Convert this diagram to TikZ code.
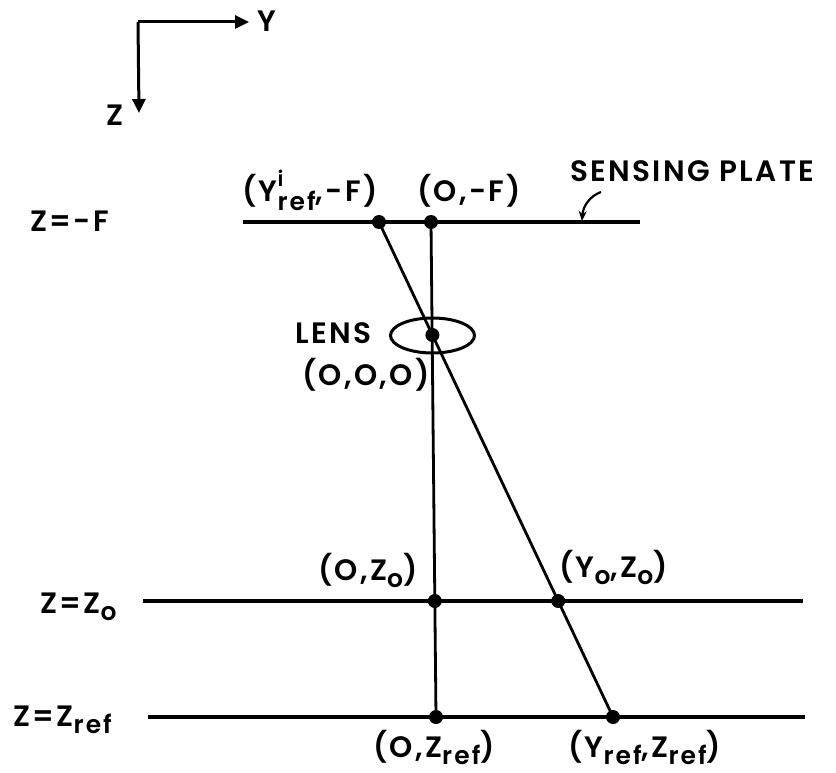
\documentclass[tikz,border=0pt]{standalone}
\usepackage{fontspec}
\setmainfont{Poppins}[BoldFont={Poppins SemiBold},BoldFeatures={LetterSpace=8}]
\usetikzlibrary{arrows.meta}
\newcommand{\lowsub}[1]{\raisebox{-7pt}{\fontsize{25}{25}\selectfont #1}}
\newcommand{\yiref}{Y\rlap{\raisebox{16pt}{\fontsize{21}{21}\selectfont i}}\raisebox{-9pt}{\fontsize{25}{25}\selectfont ref}}
\tikzset{
  lbl/.style={inner sep=0pt, anchor=base west, font=\fontsize{29.5}{29.5}\selectfont\bfseries},
  dot/.style={circle, fill=black, inner sep=0pt, minimum size=14pt},
  plane/.style={line width=4pt},
  ray/.style={line width=2.8pt},
  axis/.style={line width=3pt, -{Triangle[length=14pt,width=13pt]}},
}
\begin{document}
\begin{tikzpicture}[x=1pt,y=-1pt]
\useasboundingbox (0,0) rectangle (836,773);
% axes
\coordinate (ax0) at (138,22);
\coordinate (axY) at (249,22);
\coordinate (axZ) at (139,113);
\draw[axis] (ax0) -- (axY);
\draw[axis] (ax0) -- (axZ);
\node[lbl] (labY) at (257,32) {Y};
\node[lbl] (labZ) at (106,126) {Z};
% plane endpoints
\coordinate (pF1) at (243,222);
\coordinate (pF2) at (640,222);
\coordinate (pZo1) at (143,601);
\coordinate (pZo2) at (803,601);
\coordinate (pZr1) at (148,717);
\coordinate (pZr2) at (805,717);
\draw[plane] (pF1) -- (pF2);
\draw[plane] (pZo1) -- (pZo2);
\draw[plane] (pZr1) -- (pZr2);
% lens
\draw[line width=3pt] (432.5,335.5) ellipse [x radius=42pt, y radius=17.5pt];
% points
\coordinate (cYi) at (379,222);
\coordinate (cOF) at (431,222);
\coordinate (cL) at (432.4,335);
\coordinate (cOZo) at (434.8,601);
\coordinate (cYZo) at (558.2,601);
\coordinate (cOZr) at (436,717);
\coordinate (cYZr) at (613,717);
\draw[ray] (cOF) -- (cOZr);
\draw[ray] (cYi) -- (cYZr);
\node[dot] (dYi) at (cYi) {};
\node[dot] (dOF) at (cOF) {};
\node[dot] (dL) at (cL) {};
\node[dot] (dOZo) at (cOZo) {};
\node[dot] (dYZo) at (cYZo) {};
\node[dot] (dOZr) at (cOZr) {};
\node[dot] (dYZr) at (cYZr) {};
% sensing plate leader
\coordinate (spS) at (601,192);
\coordinate (spT) at (582,221);
\draw[line width=2.2pt, -{Stealth[length=10pt,width=8pt]}] (spS) .. controls (590,196) and (583,206) .. (spT);
% labels
\node[lbl] (tSP) at (570,182) {SENSING PLATE};
\node[lbl] (tZF) at (30,231) {Z=-F};
\node[lbl] (tYi) at (242,202) {(\yiref,-F)};
\node[lbl] (tOF) at (417,202) {(O,-F)};
\node[lbl] (tLens) at (295,343) {LENS};
\node[lbl] (tO3) at (302,385) {(O,O,O)};
\node[lbl] (tOZo) at (318,580) {(O,Z\lowsub{o})};
\node[lbl] (tYZo) at (559,577) {(Y\lowsub{o},Z\lowsub{o})};
\node[lbl] (tZZo) at (40,613) {Z=Z\lowsub{o}};
\node[lbl] (tZZr) at (13,726) {Z=Z\lowsub{ref}};
\node[lbl] (tOZr) at (373,757) {(O,Z\lowsub{ref})};
\node[lbl] (tYZr) at (568,757) {(Y\lowsub{ref},Z\lowsub{ref})};
\end{tikzpicture}
\end{document}
